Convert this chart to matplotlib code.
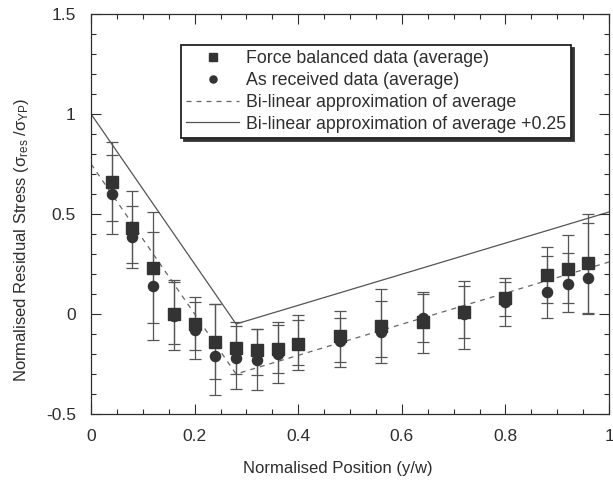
import numpy as np
import matplotlib
matplotlib.use('Agg')
import matplotlib.pyplot as plt
from matplotlib.ticker import MultipleLocator

plt.rcParams['font.family'] = ['Liberation Sans', 'DejaVu Sans']
plt.rcParams['mathtext.default'] = 'regular'

# positions along the width
pos = [0.04, 0.08, 0.12, 0.16, 0.20, 0.24, 0.28, 0.32, 0.36, 0.40,
       0.48, 0.56, 0.64, 0.72, 0.80, 0.88, 0.92, 0.96]

# force balanced data (average) + its range
fb_mean = [0.66, 0.43, 0.23, 0.00, -0.05, -0.14, -0.17, -0.18, -0.175, -0.15,
           -0.11, -0.06, -0.04, 0.01, 0.08, 0.195, 0.225, 0.255]
fb_low = [0.467, 0.257, -0.043, -0.15, -0.18, -0.325, -0.30, -0.305, -0.293, -0.255,
          -0.238, -0.213, -0.138, -0.122, -0.01, 0.053, 0.057, 0.007]
fb_high = [0.795, 0.54, 0.41, 0.158, 0.058, 0.048, -0.058, -0.073, -0.055, -0.03,
           -0.022, 0.067, 0.10, 0.142, 0.162, 0.29, 0.307, 0.453]

# as received data (average) + its range
ar_mean = [0.60, 0.385, 0.14, -0.01, -0.08, -0.21, -0.22, -0.23, -0.20, -0.15,
           -0.135, -0.09, -0.02, 0.00, 0.06, 0.11, 0.15, 0.18]
ar_low = [0.40, 0.232, -0.13, -0.18, -0.227, -0.405, -0.373, -0.38, -0.345, -0.28,
          -0.263, -0.243, -0.193, -0.175, -0.058, -0.018, 0.012, 0.0]
ar_high = [0.86, 0.617, 0.508, 0.17, 0.083, 0.048, -0.04, -0.073, -0.04, -0.005,
           0.017, 0.125, 0.112, 0.167, 0.178, 0.337, 0.395, 0.50]

# bi-linear approximation
bl_x = [0.0, 0.28, 1.0]
bl_y = [0.75, -0.30, 0.26]
offset = 0.25

ink = '#2e2e2e'
line_col = '#555555'

fig = plt.figure(figsize=(6.13, 4.87), dpi=100)
ax = fig.add_axes([0.1485, 0.1499, 0.8450, 0.8214])

fb_mean = np.array(fb_mean)
ar_mean = np.array(ar_mean)
ax.errorbar(pos, ar_mean, yerr=[ar_mean - np.array(ar_low), np.array(ar_high) - ar_mean],
            fmt='none', ecolor=line_col, elinewidth=0.9, capsize=4, capthick=0.9, zorder=2)
ax.errorbar(pos, fb_mean, yerr=[fb_mean - np.array(fb_low), np.array(fb_high) - fb_mean],
            fmt='none', ecolor=line_col, elinewidth=0.9, capsize=4, capthick=0.9, zorder=2)

ax.plot(pos, fb_mean, 's', color='#333333', markersize=8, zorder=4,
        label='Force balanced data (average)')
ax.plot(pos, ar_mean, 'o', color='#333333', markersize=7.3, zorder=3,
        label='As received data (average)')
ax.plot(bl_x, bl_y, '--', color='#666666', lw=0.9, dashes=(4, 4), zorder=1,
        label='Bi-linear approximation of average')
ax.plot(bl_x, [v + offset for v in bl_y], '-', color='#555555', lw=0.9, zorder=1,
        label='Bi-linear approximation of average +0.25')

ax.set_xlim(0, 1)
ax.set_ylim(-0.5, 1.5)
ax.xaxis.set_minor_locator(MultipleLocator(0.05))
ax.yaxis.set_minor_locator(MultipleLocator(0.1))
ax.set_xticks([0, 0.2, 0.4, 0.6, 0.8, 1.0])
ax.set_xticklabels(['0', '0.2', '0.4', '0.6', '0.8', '1'])
ax.set_yticks([-0.5, 0, 0.5, 1, 1.5])
ax.set_yticklabels(['-0.5', '0', '0.5', '1', '1.5'])
ax.tick_params(which='both', direction='in', top=True, right=True, colors=ink,
               labelsize=12.5, labelcolor=ink)
ax.tick_params(which='major', length=7, width=0.8, pad=11)
ax.tick_params(which='minor', length=3.5, width=0.8)
for s in ax.spines.values():
    s.set_color(ink)
    s.set_linewidth(0.9)

ax.set_xlabel('Normalised Position (y/w)', fontsize=12, color=ink)
ax.set_ylabel('Normalised Residual Stress (σ$_{res}$ /σ$_{YP}$)', fontsize=12, color=ink)
ax.xaxis.set_label_coords(0.477, -0.117)
ax.yaxis.set_label_coords(-0.116, 0.435)

leg = ax.legend(loc='upper left', bbox_to_anchor=(0.156, 0.945), fontsize=12.8,
                frameon=True, fancybox=False, edgecolor='#222222',
                shadow={'color': '#333333', 'alpha': 1}, framealpha=1,
                handlelength=3.0, handletextpad=0.35, labelspacing=0.27,
                borderpad=0.3, markerscale=0.7, labelcolor=ink)
leg.get_frame().set_linewidth(1.3)

fig.savefig('out.png', dpi=100)
